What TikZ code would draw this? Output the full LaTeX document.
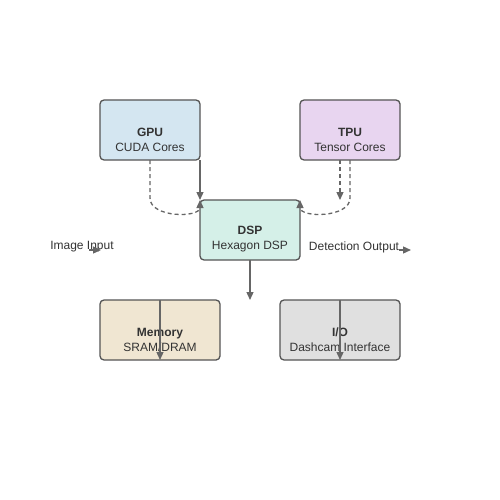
\documentclass[tikz,border=0pt]{standalone}
\usepackage{fontspec}
\setmainfont{Liberation Sans}
\usetikzlibrary{arrows.meta,calc}
\definecolor{gpufill}{HTML}{D4E6F1}
\definecolor{tpufill}{HTML}{E8D5F0}
\definecolor{dspfill}{HTML}{D5F0E8}
\definecolor{memfill}{HTML}{F0E6D2}
\definecolor{iofill}{HTML}{E0E0E0}
\definecolor{edge}{HTML}{555555}
\definecolor{conn}{HTML}{666666}
\definecolor{txt}{HTML}{333333}
\begin{document}
\begin{tikzpicture}[x=1pt,y=-1pt,
  box/.style={draw=edge,line width=1.3pt,rounded corners=4pt,minimum height=60pt,inner sep=0pt,outer sep=0pt},
  lbl/.style={text=txt,font=\fontsize{12pt}{15pt}\selectfont,align=center,inner sep=0pt},
  link/.style={draw=conn,line width=1.3pt,-{Triangle[length=8pt,width=7pt]}},
  dlink/.style={link,dash pattern=on 4pt off 3pt}]
\useasboundingbox (0,0) rectangle (500,500);
\fill[white] (0,0) rectangle (500,500);
% boxes
\node[box,fill=gpufill,minimum width=100pt] (gpu) at (150,130) {};
\node[box,fill=tpufill,minimum width=100pt] (tpu) at (350,130) {};
\node[box,fill=dspfill,minimum width=100pt] (dsp) at (250,230) {};
\node[box,fill=memfill,minimum width=120pt] (mem) at (160,330) {};
\node[box,fill=iofill,minimum width=120pt] (io) at (340,330) {};
% texts
\node[lbl] (gput) at ($(gpu.center)+(0,9.5)$) {\textbf{GPU}\\CUDA Cores};
\node[lbl] (tput) at ($(tpu.center)+(0,9.5)$) {\textbf{TPU}\\Tensor Cores};
\node[lbl] (dspt) at ($(dsp.center)+(0,9.5)$) {\textbf{DSP}\\Hexagon DSP};
\node[lbl] (memt) at ($(mem.center)+(0,9.5)$) {\textbf{Memory}\\SRAM/DRAM};
\node[lbl] (iot) at ($(io.center)+(0,9.5)$) {\textbf{I/O}\\Dashcam Interface};
\node[lbl] (inl) at (82,247) {Image Input};
\node[lbl] (outl) at (354,247) {Detection Output};
% coordinates
\coordinate (tpuA) at (340,160);
\coordinate (tpuend) at (340,200);
\coordinate (tpuB) at (350,160);
\coordinate (tpuC) at (350,198);
\coordinate (gpuC) at (150,198);
\coordinate (dspend) at (250,300);
\coordinate (inA) at (89,250);
\coordinate (inB) at (101,250);
\coordinate (outA) at (399,250);
\coordinate (outB) at (411,250);
% connectors
\draw[link] (gpu.south east) -- (dsp.north west);
\draw[dlink] (gpu.south) -- (gpuC) .. controls (150,218) and (200,218) .. (dsp.north west);
\draw[dlink] (tpuA) -- (tpuend);
\draw[dlink] (tpuB) -- (tpuC) .. controls (350,218) and (300,218) .. (dsp.north east);
\draw[link] (dsp.south) -- (dspend);
\draw[link] (mem.north) -- (mem.south);
\draw[link] (io.north) -- (io.south);
\draw[link] (inA) -- (inB);
\draw[link] (outA) -- (outB);
\end{tikzpicture}
\end{document}
